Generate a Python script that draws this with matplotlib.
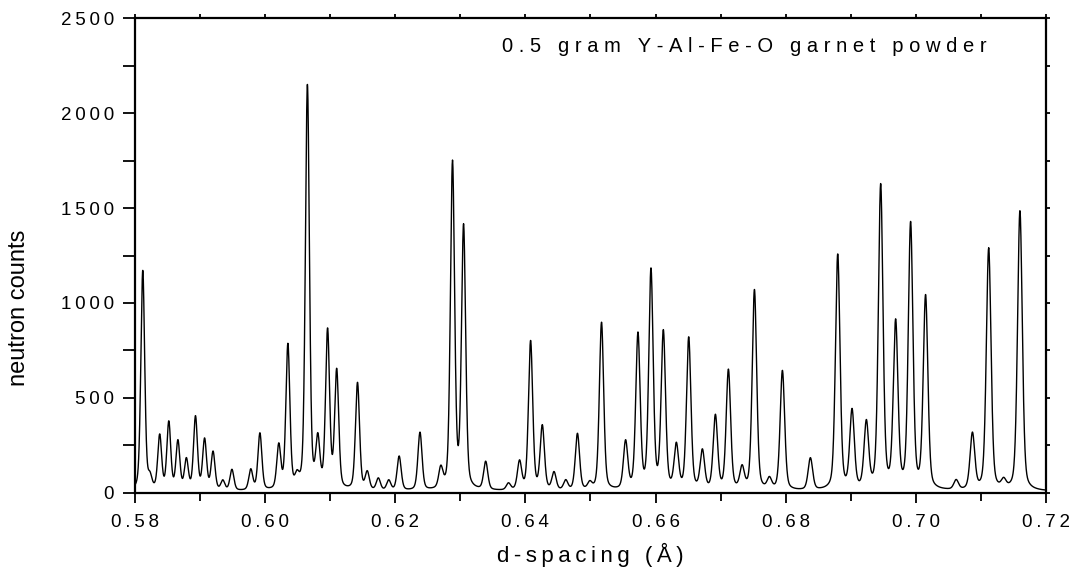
import numpy as np
import matplotlib
matplotlib.use("Agg")
import matplotlib.pyplot as plt
from matplotlib.ticker import MultipleLocator

plt.rcParams['font.family'] = ['Liberation Sans', 'DejaVu Sans']

# Peak positions (d-spacing, Angstrom) and peak heights (counts)
peak_d = [0.5812, 0.5823, 0.5838, 0.5852, 0.5866, 0.5879, 0.5893, 0.5907,
          0.5920, 0.5935, 0.5949, 0.5978, 0.5992, 0.6021, 0.6035, 0.6049,
          0.6065, 0.6081, 0.6096, 0.6110, 0.6142, 0.6157, 0.6174, 0.6190,
          0.6206, 0.6238, 0.6270, 0.6288, 0.6305, 0.6339, 0.6374, 0.6391,
          0.6408, 0.6426, 0.6444, 0.6462, 0.6480, 0.6499, 0.6517, 0.6554,
          0.6573, 0.6593, 0.6612, 0.6632, 0.6651, 0.6672, 0.6692, 0.6712,
          0.6733, 0.6752, 0.6775, 0.6795, 0.6838, 0.6880, 0.6902, 0.6924,
          0.6946, 0.6969, 0.6992, 0.7015, 0.7062, 0.7087, 0.7112, 0.7135,
          0.7160]
peak_counts = [1160, 60, 285, 355, 255, 158, 385, 265,
               200, 50, 110, 108, 300, 230, 760, 55,
               2130, 250, 830, 620, 565, 92, 62, 52,
               180, 305, 105, 1720, 1380, 148, 35, 148,
               785, 335, 92, 50, 298, 35, 885, 250,
               815, 1150, 825, 228, 800, 202, 388, 630,
               112, 1055, 55, 630, 168, 1240, 410, 345,
               1600, 870, 1395, 1015, 50, 295, 1275, 43,
               1475]
background = 6

x_ticks = [0.58, 0.60, 0.62, 0.64, 0.66, 0.68, 0.70, 0.72]
y_ticks = [0, 500, 1000, 1500, 2000, 2500]
sample_label = "0.5 gram Y-Al-Fe-O garnet powder"
x_title = "d-spacing (Å)"
y_title = "neutron counts"


def spaced(s, gap):
    # the original uses wide letter spacing
    return gap.join(s)


# build the pattern as a sum of peak profiles
d = np.linspace(0.58, 0.72, 6000)
counts = np.full_like(d, background, dtype=float)
for d0, h in zip(peak_d, peak_counts):
    hw = 0.0012 * d0 / 2
    u = (d - d0) / hw
    counts += h * (0.65 * np.exp(-np.log(2) * u ** 2) + 0.35 / (1 + u ** 2))

fig = plt.figure(figsize=(10.72, 5.74), dpi=100)
ax = fig.add_axes([0.1259, 0.1416, 0.8498, 0.8265])
ax.plot(d, counts, color='black', lw=1.0)

ax.set_xlim(0.58, 0.72)
ax.set_ylim(0, 2500)
ax.set_xticks(x_ticks)
ax.set_xticklabels([spaced(f"{t:.2f}", '\u2009') for t in x_ticks])
ax.set_yticks(y_ticks)
ax.set_yticklabels([spaced(str(t), '\u2009') for t in y_ticks])
ax.xaxis.set_minor_locator(MultipleLocator(0.01))
ax.yaxis.set_minor_locator(MultipleLocator(250))

for sp in ax.spines.values():
    sp.set_linewidth(1.6)

ax.tick_params(axis='y', which='both', direction='out', length=9, width=1.3,
               labelsize=13.5, pad=6)
ax.tick_params(axis='x', which='major', direction='out', length=7, width=1.3,
               labelsize=13.5, pad=8)
ax.tick_params(axis='x', which='minor', direction='out', length=5.5, width=1.3)
ax.tick_params(which='both', top=True, right=True)
# tiny ticks on top and right edges
for t in ax.xaxis.get_major_ticks() + ax.xaxis.get_minor_ticks():
    t.tick2line.set_markersize(3)
for t in ax.yaxis.get_major_ticks() + ax.yaxis.get_minor_ticks():
    t.tick2line.set_markersize(3)

ax.set_xlabel(spaced(x_title, '\u2009'), fontsize=16)
ax.xaxis.set_label_coords(0.5, -0.105)
ax.set_ylabel(y_title, fontsize=17)
ax.yaxis.set_label_coords(-0.115, 0.39)

ax.text(0.935, 0.929, spaced(sample_label, '\u2009\u200a'), transform=ax.transAxes,
        ha='right', va='baseline', fontsize=14.5)

fig.savefig("out.png", dpi=100)
